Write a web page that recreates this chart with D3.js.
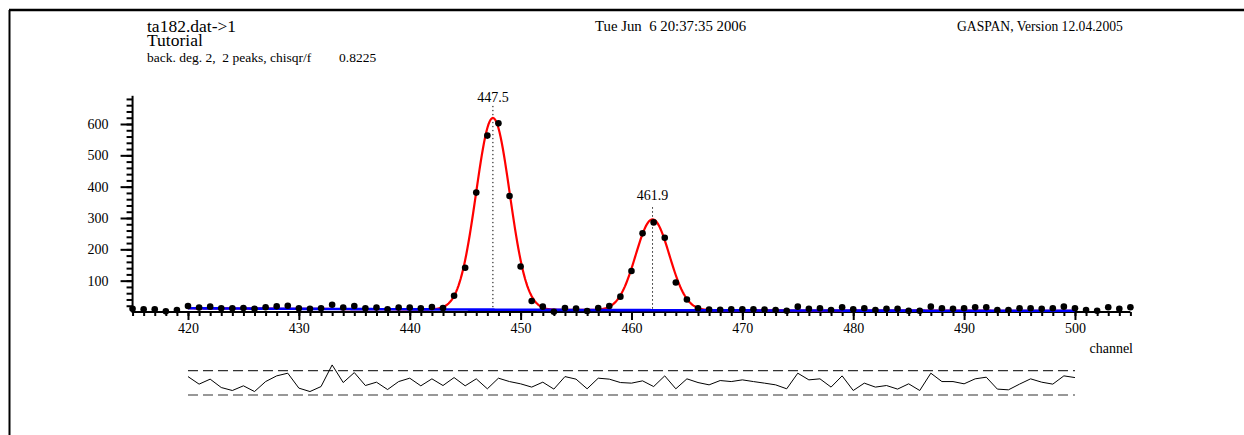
<!DOCTYPE html>
<html>
<head>
<meta charset="utf-8">
<script src="https://cdn.jsdelivr.net/npm/d3@7"></script>
<style>
  body { margin: 0; background: #fff; }
  text { font-family: "Liberation Serif", "Times New Roman", serif; fill: #000; white-space: pre; }
</style>
</head>
<body>
<div id="spectrum"></div>
<script>
// measured spectrum, one count per channel
var firstChannel = 415;
var counts = [10, 9, 9, 2, 6,
  19, 14, 17, 12, 12, 13, 10, 15, 18, 20,
  12, 10, 12, 23, 14, 19, 12, 14, 9, 14,
  14, 12, 16, 13, 52, 141, 381, 563, 602, 370,
  145, 35, 17, 1, 13, 11, 3, 13, 19, 49,
  131, 251, 286, 237, 94, 40, 12, 8, 7, 9,
  9, 9, 8, 6, 4, 17, 10, 12, 6, 15,
  9, 12, 6, 10, 10, 4, 4, 17, 12, 10,
  12, 15, 15, 6, 6, 12, 12, 10, 12, 17,
  12, 6, 4, 15, 10, 15];

// fit region and fit result (2 peaks, background deg 2)
var fitRange = [420, 500];
var peakCenters = [447.5, 461.9];
var peakHeights = [612, 290];
var peakSigma = [1.52, 1.52];
var peakLabels = ["447.5", "461.9"];
var backCoef = [6, -0.1, 0.00125]; // around channel 460

// normalised residuals for channels 420..500
var residuals = [1.03, -0.21, 0.61, -0.77, -1.26, -0.49, -1.43, 0.21, 1.15, 1.59,
  -0.87, -1.43, -0.61, 2.95, 0.05, 1.69, -0.44, 0.11, -1.10, 0.21,
  0.77, -0.49, 0.66, -0.44, 0.87, -0.49, 0.66, -0.98, 0.77, 0.21,
  -0.16, -0.70, 0.11, -1.03, 1.03, 0.61, -0.98, 0.77, 0.61, 0.05,
  -0.05, 0.33, -0.61, 1.15, -0.98, 0.66, 0.05, -0.33, 0.38, 0.21,
  0.49, 0.21, -0.05, -0.33, -0.98, 1.59, 0.49, 0.66, -0.70, 1.15,
  -1.26, -0.05, -0.70, -0.44, -1.03, -0.16, -1.26, 1.59, 0.21, 0.21,
  -0.16, 0.66, 0.93, -1.03, -1.15, -0.21, 0.66, 0.11, -0.21, 1.15, 0.87];

var xTickValues = [420, 430, 440, 450, 460, 470, 480, 490, 500];
var yTickValues = [100, 200, 300, 400, 500, 600];

var svgWidth = 1244;
var svgHeight = 435;
var serif = "Liberation Serif, Times New Roman, serif";

var svg = d3.select("#spectrum")
  .append("svg")
  .attr("width", svgWidth)
  .attr("height", svgHeight);

// page frame
svg.append("line").attr("x1", 9).attr("x2", svgWidth).attr("y1", 10).attr("y2", 10)
  .attr("stroke", "#000").attr("stroke-width", 2.5);
svg.append("line").attr("x1", 9.5).attr("x2", 9.5).attr("y1", 10).attr("y2", svgHeight)
  .attr("stroke", "#000").attr("stroke-width", 2);

// header texts
svg.append("text").attr("x", 147).attr("y", 32).style("font-size", "17.5px").text("ta182.dat->1");
svg.append("text").attr("x", 147).attr("y", 46).style("font-size", "17.5px").text("Tutorial");
svg.append("text").attr("x", 147).attr("y", 62).style("font-size", "13.5px").text("back. deg. 2,  2 peaks, chisqr/f");
svg.append("text").attr("x", 339).attr("y", 62).style("font-size", "13.5px").text("0.8225");
svg.append("text").attr("x", 595).attr("y", 31).style("font-size", "14.8px").text("Tue Jun  6 20:37:35 2006");
svg.append("text").attr("x", 957).attr("y", 31).style("font-size", "13.6px").text("GASPAN, Version 12.04.2005");

var data = counts.map(function (d, i) {
  return { channel: firstChannel + i, value: d };
});

var x = d3.scaleLinear().domain([415, 505]).range([132.56, 1130.4]);
var y = d3.scaleLinear().domain([0, 690]).range([312, 95.8]);

function background(c) {
  var t = c - 460;
  return backCoef[0] + backCoef[1] * t + backCoef[2] * t * t;
}
function fit(c) {
  var v = background(c);
  peakCenters.forEach(function (p, i) {
    v += peakHeights[i] * Math.exp(-Math.pow(c - p, 2) / (2 * peakSigma[i] * peakSigma[i]));
  });
  return v;
}

// axes
var yMinor = d3.axisLeft(y).tickValues(d3.range(20, 681, 20)).tickSize(6).tickFormat("");
var yMajor = d3.axisLeft(y).tickValues(yTickValues).tickSize(12).tickPadding(12);
var xMinor = d3.axisBottom(x).tickValues(d3.range(415, 506, 1)).tickSize(4).tickFormat("");
var xMajor = d3.axisBottom(x).tickValues(xTickValues).tickSize(8).tickPadding(3);

function styleAxis(g) {
  g.attr("font-family", serif).attr("font-size", 14);
  g.select(".domain").remove();
  g.selectAll(".tick line").attr("stroke", "#000").attr("stroke-width", 2);
  g.selectAll(".tick text").style("font-size", "14px").style("font-family", serif);
}

svg.append("g").attr("transform", "translate(" + x(415) + ",0)").call(yMinor).call(styleAxis);
svg.append("g").attr("transform", "translate(" + x(415) + ",0)").call(yMajor).call(styleAxis);
svg.append("g").attr("transform", "translate(0," + y(0) + ")").call(xMinor).call(styleAxis);
svg.append("g").attr("transform", "translate(0," + y(0) + ")").call(xMajor).call(styleAxis);

svg.append("line").attr("x1", x(415)).attr("x2", x(415)).attr("y1", y(0) + 1).attr("y2", y(690))
  .attr("stroke", "#000").attr("stroke-width", 2);
svg.append("line").attr("x1", x(415)).attr("x2", x(505)).attr("y1", y(0)).attr("y2", y(0))
  .attr("stroke", "#000").attr("stroke-width", 2);

svg.append("text").attr("x", 1133).attr("y", 353).attr("text-anchor", "end")
  .style("font-size", "14px").text("channel");

// peak markers
peakCenters.forEach(function (p, i) {
  var top = y(fit(p));
  svg.append("line").attr("x1", x(p)).attr("x2", x(p)).attr("y1", top - 12).attr("y2", y(0))
    .attr("stroke", "#000").attr("stroke-width", 1).attr("stroke-dasharray", "1.3,2.7");
  svg.append("text").attr("x", x(p)).attr("y", top - 16 - i * 3).attr("text-anchor", "middle")
    .style("font-size", "14px").text(peakLabels[i]);
});

// fit curve and background
var fitChannels = d3.range(fitRange[0], fitRange[1] + 0.001, 0.1);
var line = d3.line()
  .x(function (d) { return x(d[0]); })
  .y(function (d) { return y(d[1]); });

svg.append("path")
  .datum(fitChannels.map(function (c) { return [c, fit(c)]; }))
  .attr("d", line).attr("fill", "none").attr("stroke", "#ff0000").attr("stroke-width", 2.2);
svg.append("path")
  .datum(fitChannels.map(function (c) { return [c, background(c)]; }))
  .attr("d", line).attr("fill", "none").attr("stroke", "#0000ff").attr("stroke-width", 2.6);

// data points
svg.selectAll(".pt")
  .data(data)
  .enter().append("circle")
  .attr("class", "pt")
  .attr("cx", function (d) { return x(d.channel); })
  .attr("cy", function (d) { return y(d.value); })
  .attr("r", 3.3)
  .attr("fill", "#000");

// residual panel
var yr = d3.scaleLinear().domain([-2, 2]).range([395, 370.7]);
[-2, 2].forEach(function (lim) {
  svg.append("line").attr("x1", x(420)).attr("x2", x(500)).attr("y1", yr(lim)).attr("y2", yr(lim))
    .attr("stroke", "#333").attr("stroke-width", 1.2).attr("stroke-dasharray", "10,5");
});
svg.append("path")
  .datum(residuals.map(function (r, i) { return [420 + i, r]; }))
  .attr("d", d3.line().x(function (d) { return x(d[0]); }).y(function (d) { return yr(d[1]); }))
  .attr("fill", "none").attr("stroke", "#000").attr("stroke-width", 1);
</script>
</body>
</html>
